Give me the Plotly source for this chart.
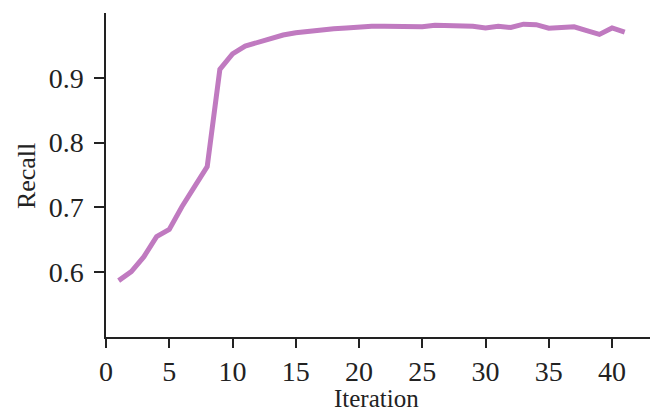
import plotly.graph_objects as go

iterations = list(range(1, 42))
recall = [0.587, 0.601, 0.624, 0.655, 0.666, 0.701, 0.732, 0.763, 0.913, 0.937,
          0.949, 0.955, 0.961, 0.966, 0.9695, 0.972, 0.974, 0.9756, 0.977, 0.9787,
          0.9797, 0.9797, 0.9797, 0.979, 0.9787, 0.981, 0.981, 0.9807, 0.9797, 0.977,
          0.9797, 0.9776, 0.9828, 0.982, 0.9766, 0.9776, 0.9787, 0.9727, 0.967, 0.977,
          0.9705]
x_ticks = [0, 5, 10, 15, 20, 25, 30, 35, 40]
y_ticks = [0.6, 0.7, 0.8, 0.9]

FONT = "Liberation Serif, Times New Roman, serif"

fig = go.Figure()
fig.add_trace(go.Scatter(x=iterations, y=recall, mode="lines",
                         line=dict(color="#c07ac0", width=5), showlegend=False))

fig.update_layout(
    width=652, height=411,
    margin=dict(l=106, r=2, t=13, b=74),
    paper_bgcolor="white", plot_bgcolor="white",
    font=dict(family=FONT, size=28, color="#222"),
    xaxis=dict(range=[0, 43], tickvals=x_ticks, showgrid=False, zeroline=False,
               showline=True, linecolor="#222", linewidth=1.5,
               ticks="outside", ticklen=9, tickwidth=2, tickcolor="#222",
               tickfont=dict(size=28)),
    yaxis=dict(range=[0.5, 1.0], tickvals=y_ticks, showgrid=False, zeroline=False,
               showline=True, linecolor="#222", linewidth=1.5,
               ticks="outside", ticklen=10, tickwidth=2, tickcolor="#222",
               ticklabelstandoff=5, tickfont=dict(size=28)),
    annotations=[
        dict(text="Recall", xref="paper", yref="paper", x=-0.145, y=0.497,
             showarrow=False, textangle=-90, font=dict(size=26),
             xanchor="center", yanchor="middle"),
        dict(text="Iteration", xref="paper", yref="paper", x=0.498, y=-0.19,
             showarrow=False, font=dict(size=25),
             xanchor="center", yanchor="middle"),
    ],
)

fig.write_html("out.html")
